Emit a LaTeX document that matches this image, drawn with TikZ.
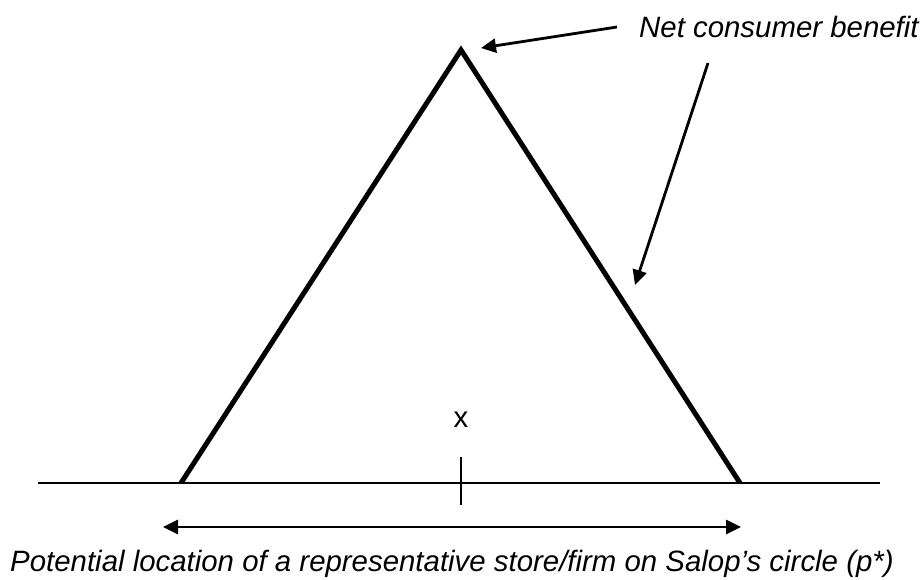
\documentclass[tikz,border=0pt]{standalone}
\usepackage{fontspec}
\setmainfont{Liberation Sans}
\usetikzlibrary{arrows.meta}
\tikzset{
  lbl/.style={inner sep=0pt, font=\fontsize{29.4}{34}\selectfont\itshape},
  xlbl/.style={inner sep=0pt, font=\fontsize{29.4}{34}\selectfont},
  tri/.style={line width=5pt, line join=miter, line cap=butt},
  axis/.style={line width=2.6pt},
  ptr/.style={line width=2.8pt, -{Triangle[length=15pt,width=14pt]}},
  span/.style={line width=2.8pt, {Triangle[length=15pt,width=14pt]}-{Triangle[length=15pt,width=14pt]}}
}
\begin{document}
\begin{tikzpicture}[x=1pt,y=-1pt]
\useasboundingbox (0,0) rectangle (924,579);
% key points
\coordinate (apex) at (461,50);
\coordinate (bl) at (181,483);
\coordinate (br) at (740,483);
\coordinate (axL) at (38,483);
\coordinate (axR) at (880,483);
\coordinate (tickT) at (461,457);
\coordinate (tickB) at (461,505);
\coordinate (spanL) at (163,527);
\coordinate (spanR) at (741,527);
\coordinate (a1s) at (617,27);
\coordinate (a1e) at (481,48);
\coordinate (a2s) at (708,63);
\coordinate (a2e) at (635,285);
% baseline and tick
\draw[axis] (axL) -- (axR);
\draw[axis] (tickT) -- (tickB);
% triangle
\draw[tri] (bl) -- (apex) -- (br);
% labels
\node[lbl, anchor=west] (ncb) at (639,27) {Net consumer benefit};
\node[xlbl, anchor=base] (xl) at (461,427) {x};
\node[lbl, anchor=base] (cap) at (452,571) {Potential location of a representative store/firm on Salop’s circle (p*)};
% pointers
\draw[ptr] (a1s) -- (a1e);
\draw[ptr] (a2s) -- (a2e);
\draw[span] (spanL) -- (spanR);
\end{tikzpicture}
\end{document}
